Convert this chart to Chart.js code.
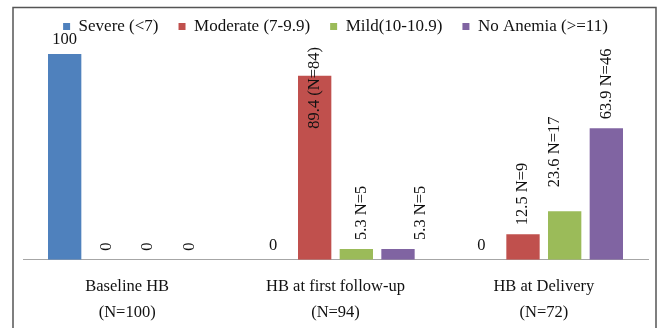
<!DOCTYPE html>
<html>
<head>
<meta charset="utf-8">
<script src="https://cdn.jsdelivr.net/npm/chart.js@4.4.1/dist/chart.umd.min.js"></script>
<style>
  html, body { margin: 0; padding: 0; background: #fff; }
  canvas { display: block; }
</style>
</head>
<body>
<canvas id="grafico" width="659" height="328"></canvas>
<script>
// --- DATOS ---
const categorias = [['Baseline HB', '(N=100)'], ['HB at first follow-up', '(N=94)'], ['HB at Delivery', '(N=72)']];
const series = ['Severe (<7)', 'Moderate (7-9.9)', 'Mild(10-10.9)', 'No Anemia (>=11)'];
const severo = [100, 0, 0];
const moderado = [0, 89.4, 12.5];
const leve = [0, 5.3, 23.6];
const sinAnemia = [0, 5.3, 63.9];
const etiquetasSevero = ['100', '0', '0'];
const etiquetasModerado = ['0', '89.4 (N=84)', '12.5 N=9'];
const etiquetasLeve = ['0', '5.3 N=5', '23.6 N=17'];
const etiquetasSinAnemia = ['0', '5.3 N=5', '63.9 N=46'];

const colores = ['#4F81BD', '#C0504D', '#9BBB59', '#8064A2'];
const fuente = '"Liberation Serif", "Times New Roman", serif';

// ajustes finos de algunas etiquetas (dataset-indice): desplazamiento en px
const ajustes = { '2-1': { dx: 5, dy: 0 }, '3-1': { dx: 23, dy: 0 }, '2-2': { dx: -10, dy: -15 } };

// marco exterior
const marco = {
    id: 'marco',
    afterDraw(chart) {
        const ctx = chart.ctx;
        ctx.save();
        ctx.strokeStyle = '#555';
        ctx.lineWidth = 1.5;
        ctx.strokeRect(13, 7.5, 643, 400);
        ctx.restore();
    }
};

// espacio extra bajo la leyenda
const espacioLeyenda = {
    id: 'espacioLeyenda',
    afterInit(chart) {
        const leg = chart.legend;
        if (!leg) return;
        const fitOriginal = leg.fit.bind(leg);
        leg.fit = function () { fitOriginal(); this.height += 9; };
    }
};

// etiquetas de datos
const etiquetas = {
    id: 'etiquetas',
    afterDatasetsDraw(chart) {
        const ctx = chart.ctx;
        const tope = chart.chartArea.top - 7;
        ctx.save();
        ctx.fillStyle = '#111';
        ctx.font = '16.5px ' + fuente;
        chart.data.datasets.forEach((ds, i) => {
            const meta = chart.getDatasetMeta(i);
            meta.data.forEach((bar, j) => {
                const texto = ds.notas[j];
                const aj = ajustes[i + '-' + j] || { dx: 0, dy: 0 };
                if (ds.horizontal) {
                    ctx.textAlign = 'center';
                    ctx.textBaseline = 'middle';
                    ctx.fillText(texto, bar.x + aj.dx, bar.y - 14.5 + aj.dy);
                } else {
                    const ancho = ctx.measureText(texto).width;
                    let base = bar.y - 9 + aj.dy;
                    if (base - ancho < tope) base = tope + ancho;
                    ctx.save();
                    ctx.translate(bar.x + aj.dx, base);
                    ctx.rotate(-Math.PI / 2);
                    ctx.textAlign = 'left';
                    ctx.textBaseline = 'middle';
                    ctx.fillText(texto, 0, 0);
                    ctx.restore();
                }
            });
        });
        ctx.restore();
    }
};

const valores = [severo, moderado, leve, sinAnemia];
const notas = [etiquetasSevero, etiquetasModerado, etiquetasLeve, etiquetasSinAnemia];

new Chart(document.getElementById('grafico'), {
    type: 'bar',
    data: {
        labels: categorias,
        datasets: series.map((nombre, i) => ({
            label: nombre,
            data: valores[i],
            notas: notas[i],
            horizontal: i === 0,
            backgroundColor: colores[i],
            borderWidth: 0,
            categoryPercentage: 0.8,
            barPercentage: 0.8
        }))
    },
    options: {
        responsive: false,
        animation: false,
        layout: { padding: { top: -2, left: 23, right: 11, bottom: -12 } },
        plugins: {
            legend: {
                position: 'top',
                labels: {
                    boxWidth: 7,
                    boxHeight: 7,
                    padding: 20,
                    color: '#111',
                    font: { family: fuente, size: 17 }
                }
            },
            tooltip: { enabled: false }
        },
        scales: {
            x: {
                grid: { display: false, drawTicks: false },
                border: { display: true, color: '#A6A6A6', width: 1 },
                ticks: {
                    color: '#111',
                    padding: 14,
                    maxRotation: 0,
                    font: { family: fuente, size: 16.5, lineHeight: 1.58 }
                }
            },
            y: {
                display: false,
                min: 0,
                max: 100
            }
        }
    },
    plugins: [marco, espacioLeyenda, etiquetas]
});
</script>
</body>
</html>
